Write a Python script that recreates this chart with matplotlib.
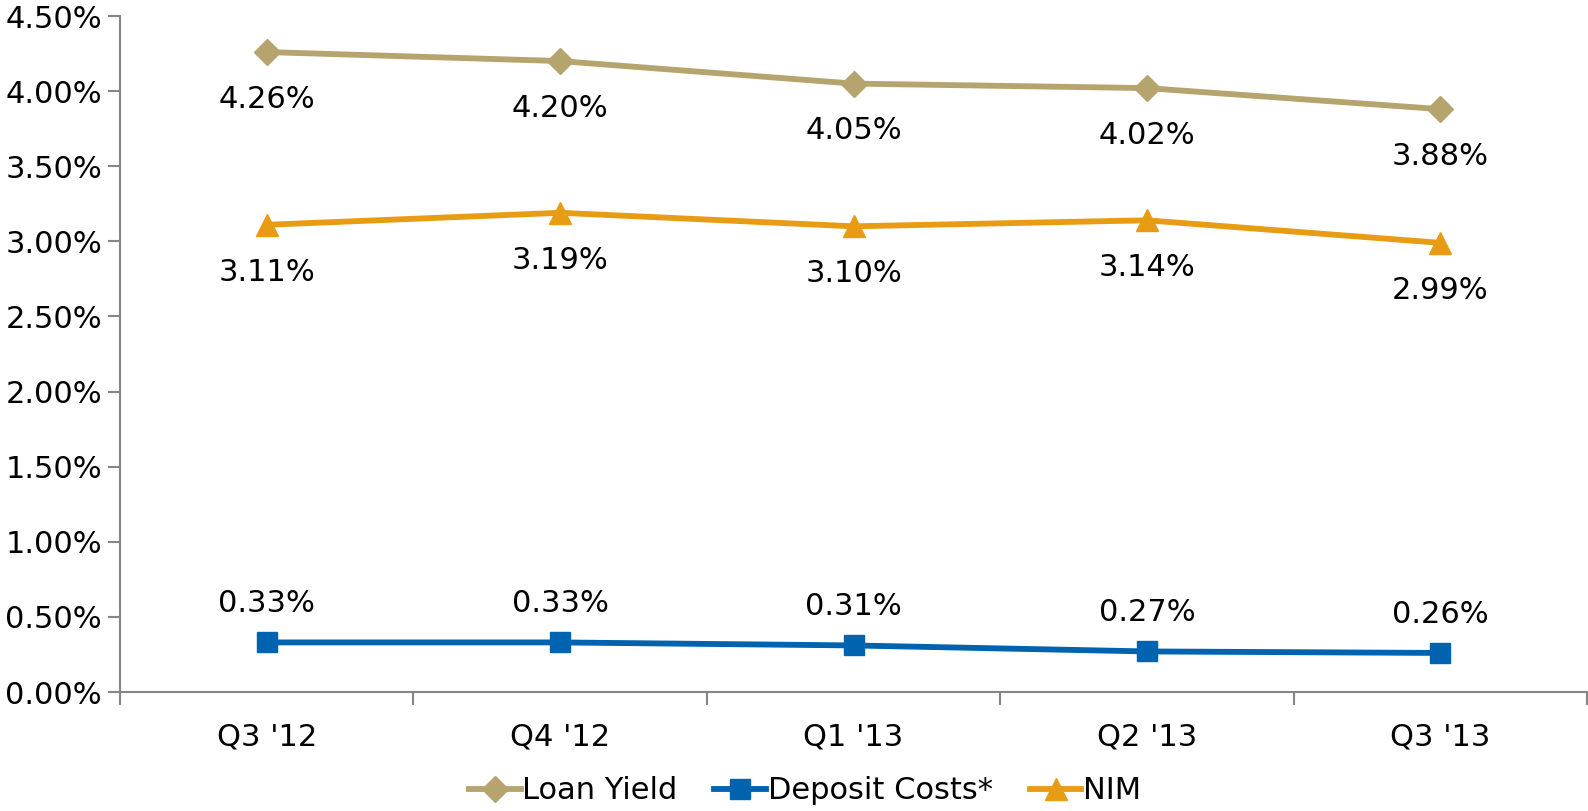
import matplotlib
matplotlib.use("Agg")
import matplotlib.pyplot as plt
from matplotlib.ticker import FuncFormatter, FixedLocator

## Chart data
quarters = ["Q3 '12", "Q4 '12", "Q1 '13", "Q2 '13", "Q3 '13"]
loan_yield = [4.26, 4.20, 4.05, 4.02, 3.88]
deposit_costs = [0.33, 0.33, 0.31, 0.27, 0.26]
nim = [3.11, 3.19, 3.10, 3.14, 2.99]

## Colors
TAN = "#B5A46E"
BLUE = "#0063AF"
ORANGE = "#E89C14"
AXISGREY = "#868686"
FS = 22

plt.rcParams["font.family"] = ["DejaVu Sans"]

fig = plt.figure(figsize=(15.88, 8.11), dpi=100)
ax = fig.add_axes([120/1588, 1 - 692/811, (1587 - 120)/1588, (692 - 16)/811])

x = list(range(len(quarters)))

# Series lines
ax.plot(x, loan_yield, color=TAN, lw=4.2, marker="D", ms=13, label="Loan Yield")
ax.plot(x, deposit_costs, color=BLUE, lw=4.2, marker="s", ms=14, label="Deposit Costs*")
ax.plot(x, nim, color=ORANGE, lw=4.2, marker="^", ms=16, label="NIM")

# Value labels
for i in x:
    ax.annotate(f"{loan_yield[i]:.2f}%", (i, loan_yield[i]), xytext=(0, -34),
                textcoords="offset points", ha="center", va="center", fontsize=FS)
    ax.annotate(f"{nim[i]:.2f}%", (i, nim[i]), xytext=(0, -34),
                textcoords="offset points", ha="center", va="center", fontsize=FS)
    ax.annotate(f"{deposit_costs[i]:.2f}%", (i, deposit_costs[i]), xytext=(0, 28),
                textcoords="offset points", ha="center", va="center", fontsize=FS)

# Axes styling
ax.set_xlim(-0.5, len(quarters) - 0.5)
ax.set_ylim(0, 4.5)
ax.set_yticks([i * 0.5 for i in range(10)])
ax.yaxis.set_major_formatter(FuncFormatter(lambda v, p: f"{v:.2f}%"))
ax.set_xticks(x)
ax.set_xticklabels(quarters)
ax.xaxis.set_minor_locator(FixedLocator([i - 0.5 for i in range(len(quarters) + 1)]))
ax.tick_params(axis="x", which="major", length=0, pad=22, labelsize=FS)
ax.tick_params(axis="x", which="minor", length=9, width=1.5, color=AXISGREY, direction="out")
ax.tick_params(axis="y", length=9, width=1.5, color=AXISGREY, direction="out", pad=4, labelsize=FS)

for side in ["top", "right"]:
    ax.spines[side].set_visible(False)
for side in ["left", "bottom"]:
    ax.spines[side].set_color(AXISGREY)
    ax.spines[side].set_linewidth(1.5)

ax.legend(loc="center", bbox_to_anchor=(0.467, -0.146), ncol=3, frameon=False,
          fontsize=FS, handlelength=1.7, handletextpad=0.05, columnspacing=1.2,
          borderpad=0, borderaxespad=0)

plt.savefig("out.png", dpi=100)
